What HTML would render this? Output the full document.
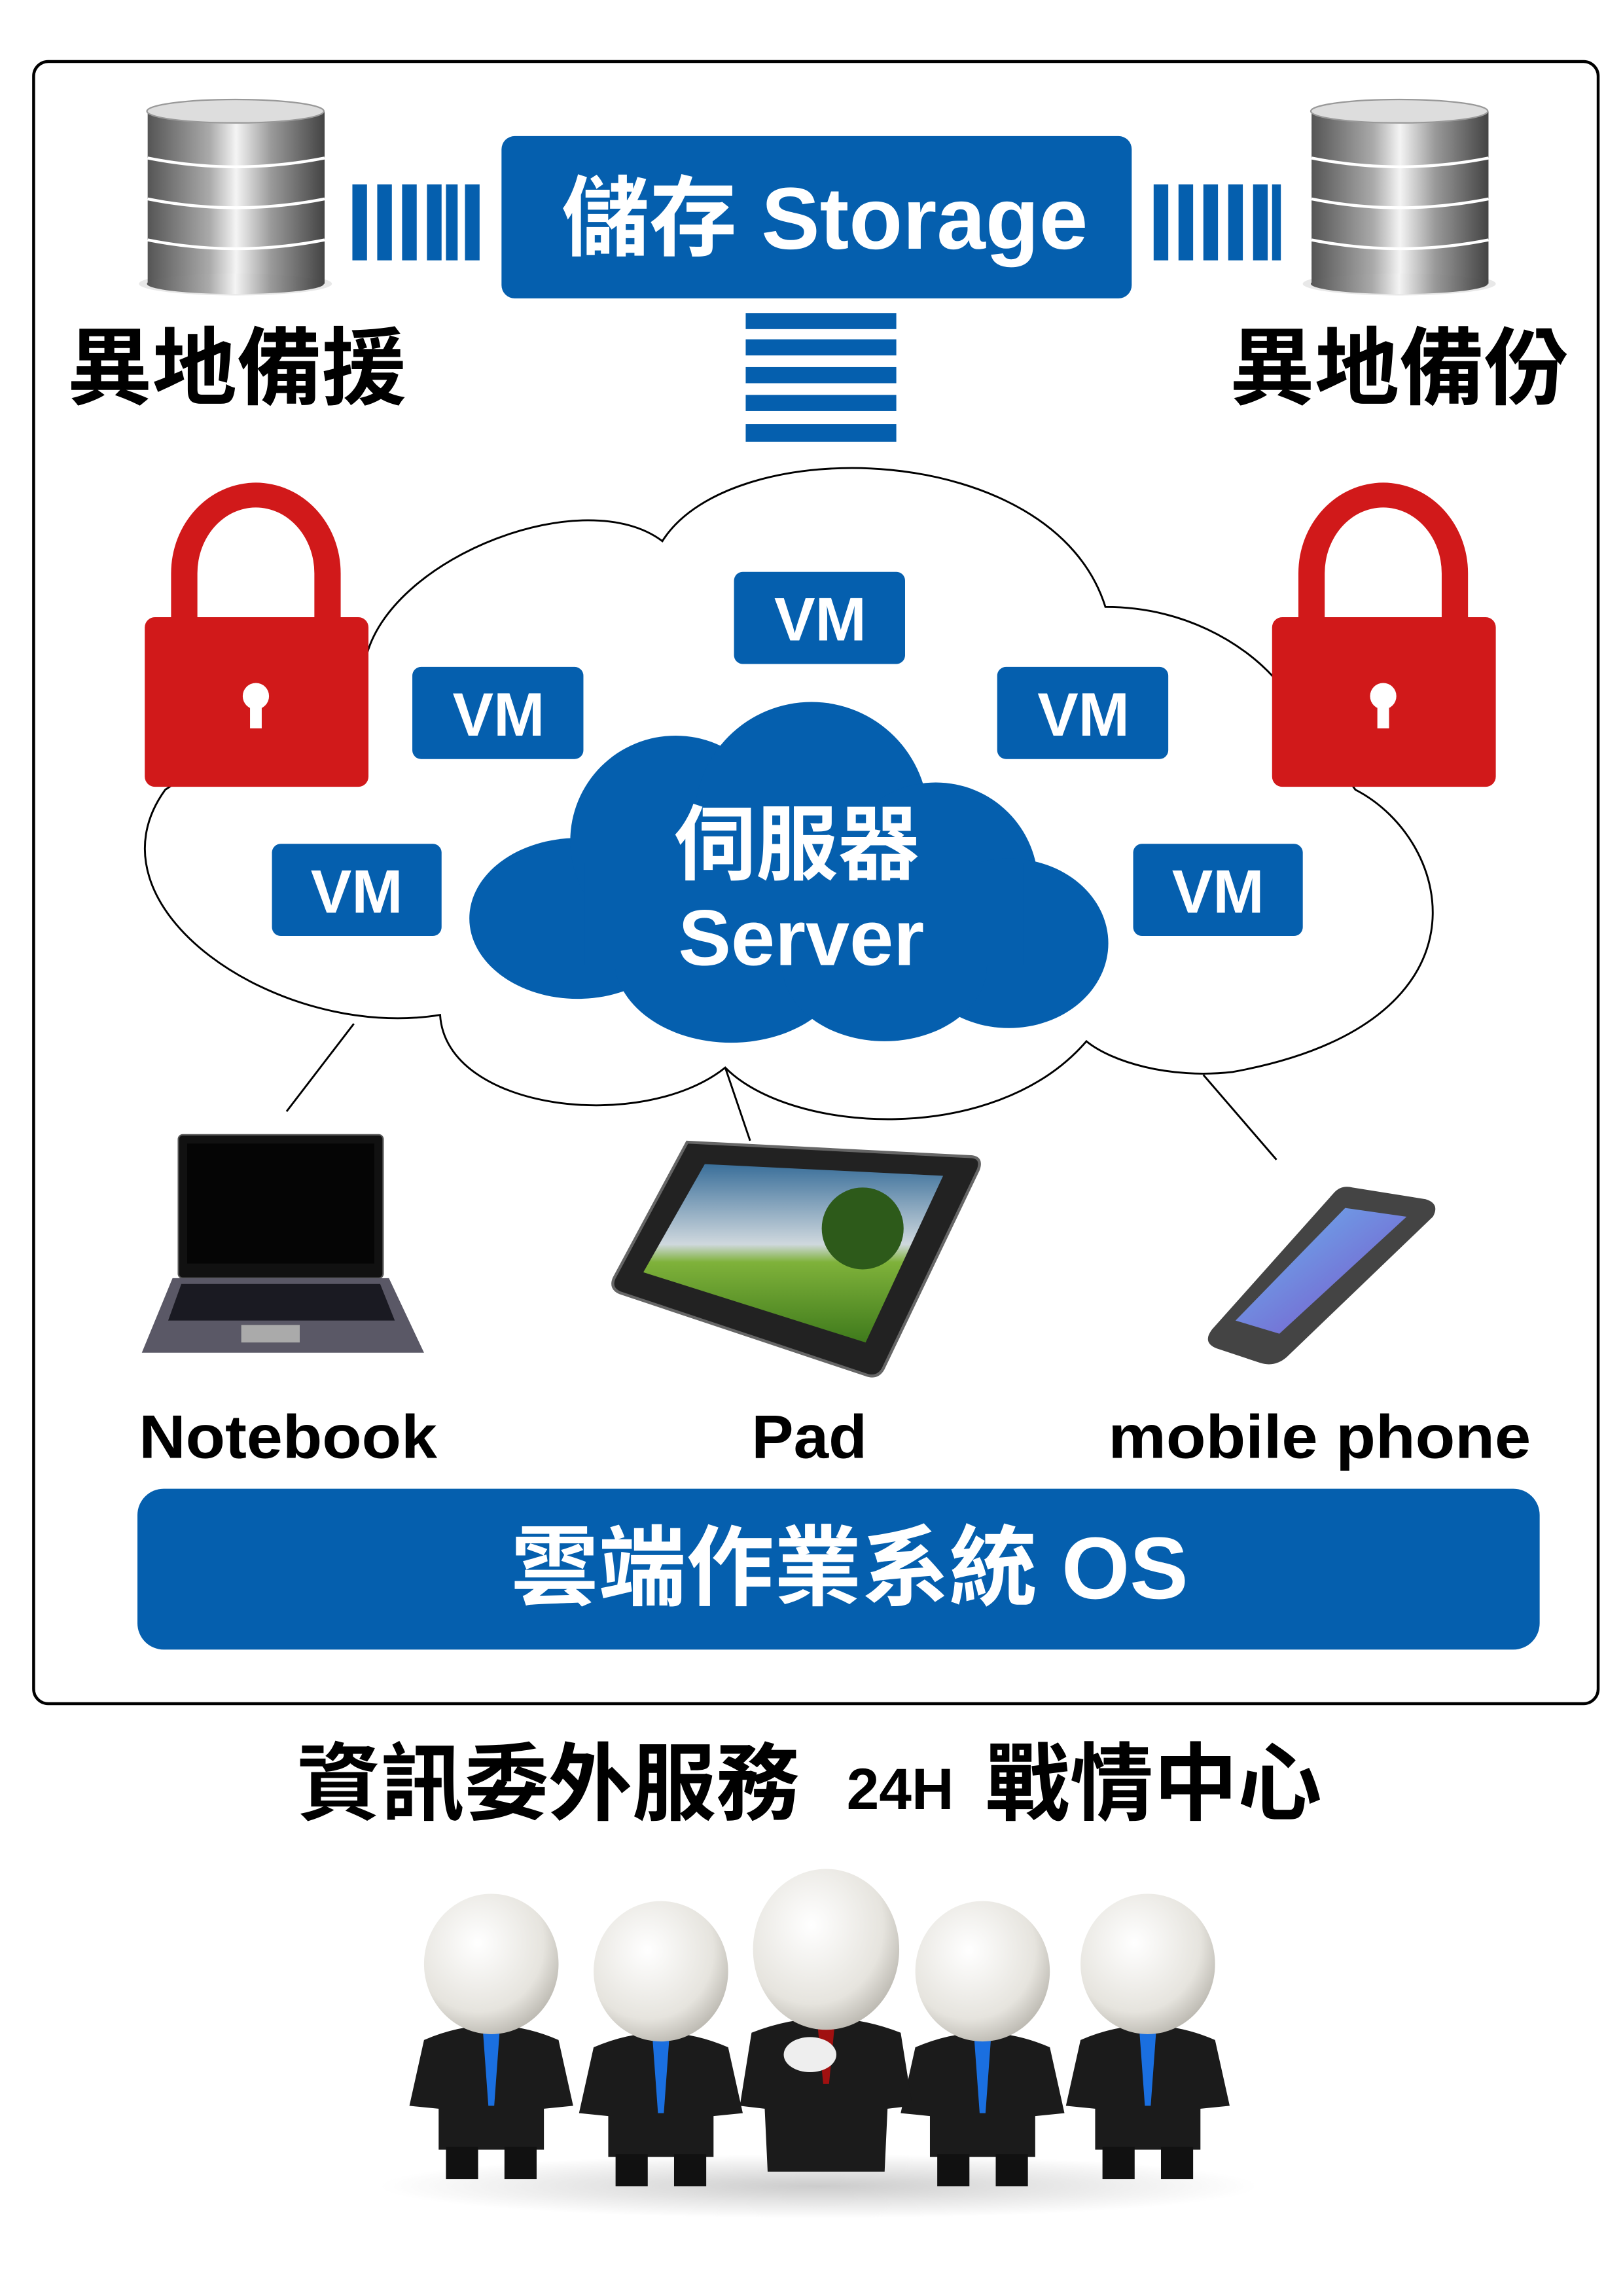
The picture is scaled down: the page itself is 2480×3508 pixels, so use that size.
<!DOCTYPE html>
<html><head><meta charset="utf-8"><style>
html,body{margin:0;padding:0;background:#fff;}
svg{display:block;}
text{font-family:"Liberation Sans","Noto Sans CJK TC",sans-serif;font-weight:bold;}
</style></head><body>
<svg width="2480" height="3508" viewBox="0 0 1110 1570" xmlns="http://www.w3.org/2000/svg">
<defs>
<linearGradient id="silver" x1="0" x2="1" y1="0" y2="0">
<stop offset="0" stop-color="#555"/><stop offset="0.35" stop-color="#aaa"/><stop offset="0.5" stop-color="#f4f4f4"/><stop offset="0.7" stop-color="#999"/><stop offset="1" stop-color="#444"/>
</linearGradient>
<linearGradient id="sky" x1="0" x2="0" y1="0" y2="1">
<stop offset="0" stop-color="#3a6f9a"/><stop offset="0.45" stop-color="#cfd8de"/><stop offset="0.55" stop-color="#7fb23a"/><stop offset="1" stop-color="#3f7a1c"/>
</linearGradient>
<linearGradient id="phs" x1="0" x2="1" y1="0" y2="1">
<stop offset="0" stop-color="#6ab7f0"/><stop offset="1" stop-color="#7a4fc8"/>
</linearGradient>
<radialGradient id="head" cx="0.4" cy="0.35" r="0.7">
<stop offset="0" stop-color="#fff"/><stop offset="0.7" stop-color="#e6e4de"/><stop offset="1" stop-color="#b8b5ad"/>
</radialGradient>
<radialGradient id="shadow"><stop offset="0" stop-color="#ccc"/><stop offset="1" stop-color="#fff"/></radialGradient>
</defs>

<rect x="23" y="42" width="1070" height="1123" rx="10" fill="none" stroke="#000" stroke-width="2"/>

<g id="db">
<ellipse cx="161" cy="194" rx="66" ry="8" fill="#e8e8e8"/>
<rect x="101" y="76" width="121" height="118" fill="url(#silver)"/>
<ellipse cx="161" cy="194" rx="60.5" ry="7" fill="url(#silver)"/>
<path d="M101 108 Q161 120 222 108 M101 136 Q161 148 222 136 M101 164 Q161 176 222 164" stroke="#fff" stroke-width="2" fill="none"/>
<ellipse cx="161" cy="76" rx="60.5" ry="8" fill="#ddd" stroke="#999"/>
</g>
<use href="#db" x="796"/>

<rect x="343" y="93" width="431" height="111" rx="9" fill="#055fae"/>
<text x="564" y="170" font-size="60" fill="#fff" text-anchor="middle">儲存 Storage</text>
<g fill="#055fae">
<rect x="241" y="126" width="10" height="52"/><rect x="258" y="126" width="10" height="52"/><rect x="275" y="126" width="10" height="52"/><rect x="292" y="126" width="10" height="52"/><rect x="318" y="126" width="10" height="52"/><rect x="305" y="126" width="8" height="52"/>
<rect x="789" y="126" width="10" height="52"/><rect x="806" y="126" width="10" height="52"/><rect x="823" y="126" width="10" height="52"/><rect x="840" y="126" width="10" height="52"/><rect x="857" y="126" width="10" height="52"/><rect x="870" y="126" width="6" height="52"/>
<rect x="510" y="214" width="103" height="11"/><rect x="510" y="232" width="103" height="11"/><rect x="510" y="251" width="103" height="11"/><rect x="510" y="270" width="103" height="11"/><rect x="510" y="290" width="103" height="12"/>
</g>
<text x="162" y="272" font-size="58" fill="#000" text-anchor="middle">異地備援</text>
<text x="957" y="272" font-size="58" fill="#000" text-anchor="middle">異地備份</text>

<path d="M251 447 C270 380,400 330,453 370 C500 295,720 300,756 415 C810 415,850 440,871 463 L927 540 C995 575,1025 700,843 733 C800 738,760 726,743 712 C680 785,540 775,496 730 C440 775,305 760,301 694 C190 712,55 620,113 540 Z" fill="#fff" stroke="#000" stroke-width="1.3"/>
<path d="M242 700 L196 760 M496 730 L513 780 M823 735 L873 793" stroke="#000" stroke-width="1.3"/>

<g id="lock">
<path d="M117 425 L117 392 A58 62 0 0 1 233 392 L233 425 L215 425 L215 392 A40 45 0 0 0 135 392 L135 425 Z" fill="#d1191a"/>
<rect x="99" y="422" width="153" height="116" rx="7" fill="#d1191a"/>
<circle cx="175" cy="476" r="9" fill="#fff"/><rect x="171" y="478" width="8" height="20" fill="#fff"/>
</g>
<use href="#lock" x="771"/>

<g fill="#055fae">
<rect x="502" y="391" width="117" height="63" rx="6"/><rect x="282" y="456" width="117" height="63" rx="6"/><rect x="682" y="456" width="117" height="63" rx="6"/><rect x="186" y="577" width="116" height="63" rx="6"/><rect x="775" y="577" width="116" height="63" rx="6"/>
</g>
<g fill="#fff" font-size="42" text-anchor="middle">
<text x="561" y="438">VM</text><text x="341" y="503">VM</text><text x="741" y="503">VM</text><text x="244" y="624">VM</text><text x="833" y="624">VM</text>
</g>

<g fill="#055fae">
<ellipse cx="395" cy="628" rx="74" ry="55"/><circle cx="462" cy="575" r="72"/><circle cx="555" cy="560" r="80"/><circle cx="640" cy="605" r="70"/><ellipse cx="690" cy="645" rx="68" ry="58"/><ellipse cx="500" cy="655" rx="80" ry="58"/><ellipse cx="605" cy="660" rx="70" ry="52"/><rect x="400" y="590" width="300" height="70"/>
</g>
<text x="545" y="597" font-size="56" fill="#fff" text-anchor="middle">伺服器</text>
<text x="548" y="660" font-size="54" fill="#fff" text-anchor="middle">Server</text>

<rect x="122" y="776" width="140" height="98" rx="3" fill="#111" stroke="#555"/>
<rect x="128" y="782" width="128" height="82" fill="#050505"/>
<path d="M118 874 L266 874 L290 925 L97 925 Z" fill="#5a5866"/>
<path d="M124 878 L260 878 L270 903 L115 903 Z" fill="#1a1a22"/>
<rect x="165" y="906" width="40" height="12" fill="#aaa"/>
<path d="M470 781 L665 791 Q672 792 669 800 L604 936 Q600 943 592 940 L424 884 Q417 881 420 874 Z" fill="#222" stroke="#666" stroke-width="2"/>
<path d="M482 796 L645 804 L592 918 L440 870 Z" fill="url(#sky)"/>
<circle cx="590" cy="840" r="28" fill="#2d5a1a"/>
<path d="M925 812 L975 820 Q985 823 980 832 L880 928 Q872 935 862 932 L832 922 Q822 918 829 909 L912 816 Q917 810 925 812 Z" fill="#444"/>
<path d="M920 826 L962 832 L875 912 L845 903 Z" fill="url(#phs)"/>
<g font-size="42" fill="#000">
<text x="95" y="997" textLength="204" lengthAdjust="spacingAndGlyphs">Notebook</text>
<text x="514" y="997" textLength="79" lengthAdjust="spacingAndGlyphs">Pad</text>
<text x="758" y="997" textLength="289" lengthAdjust="spacingAndGlyphs">mobile phone</text>
</g>

<rect x="94" y="1018" width="959" height="110" rx="18" fill="#055fae"/>
<text x="581" y="1093" font-size="60" fill="#fff" text-anchor="middle">雲端作業系統 OS</text>

<text x="203" y="1240" font-size="58" fill="#000" textLength="344" lengthAdjust="spacingAndGlyphs">資訊委外服務</text>
<text x="579" y="1237" font-size="40" fill="#000">24H</text>
<text x="674" y="1240" font-size="58" fill="#000" textLength="230" lengthAdjust="spacingAndGlyphs">戰情中心</text>

<ellipse cx="560" cy="1495" rx="300" ry="22" fill="url(#shadow)"/>
<g id="p">
<path d="M290 1395 Q336 1375 382 1395 L392 1440 L372 1442 L372 1470 L300 1470 L300 1442 L280 1440 Z" fill="#1b1b1b"/>
<rect x="305" y="1468" width="22" height="22" fill="#111"/><rect x="345" y="1468" width="22" height="22" fill="#111"/>
<path d="M330 1385 L342 1385 L338 1440 L334 1440 Z" fill="#1a6fe0"/>
<ellipse cx="336" cy="1343" rx="46" ry="48" fill="url(#head)"/>
</g>
<use href="#p" x="116" y="5"/>
<use href="#p" x="336" y="5"/>
<use href="#p" x="449" y="0"/>
<g transform="translate(229,-5)">
<path d="M285 1395 Q336 1375 387 1395 L395 1445 L378 1447 L376 1490 L296 1490 L294 1447 L277 1445 Z" fill="#1b1b1b"/>
<path d="M330 1388 L342 1388 L338 1430 L334 1430 Z" fill="#a01010"/>
<ellipse cx="325" cy="1410" rx="18" ry="12" fill="#eee"/>
<ellipse cx="336" cy="1338" rx="50" ry="55" fill="url(#head)"/>
</g>
</svg>
</body></html>
